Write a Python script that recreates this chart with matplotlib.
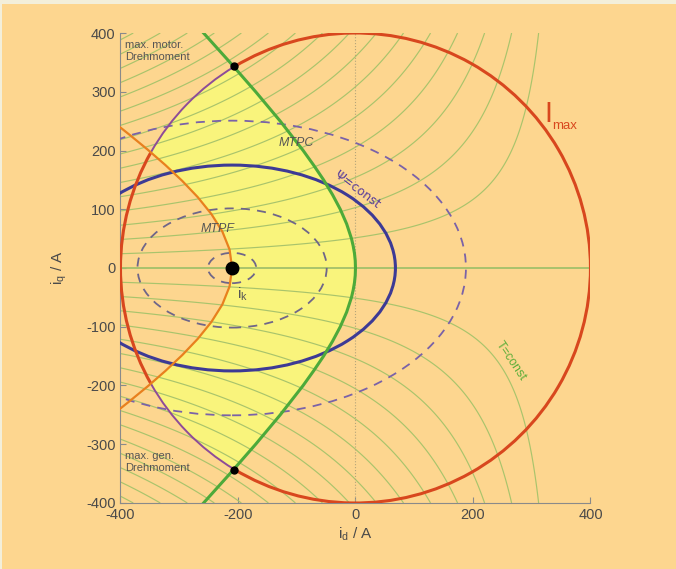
import numpy as np
import matplotlib.pyplot as plt
from matplotlib.patches import Ellipse, Arc, Circle, Polygon, Rectangle

plt.rcParams['font.family'] = ['Liberation Sans', 'DejaVu Sans']
plt.rcParams['axes.unicode_minus'] = False

# machine parameters
i_k = -210.0          # short-circuit current (centre of the voltage ellipses)
lq_ld = 1.587         # Lq / Ld  (ellipse height/width = 0.63)
i_max = 400.0         # current limit circle radius

# voltage ellipses (half width in A), dashed ones and the solid one
ell_dashed = [41, 161, 398]
ell_solid = 278

# constant torque levels (normalised units)
torque_step = 10800
torque_levels = [n * torque_step for n in range(1, 19)]

# MTPF curve, upper half (id, iq)
mtpf_id = [-210.0, -214.3, -226.6, -245.3, -268.4, -294.8, -323.3, -353.4, -384.5, -403.6]
mtpf_iq = [0.0, 31.4, 62.1, 91.9, 120.5, 148.2, 175.0, 201.2, 226.7, 241.9]

# MTPC curve, upper half (id, iq)
mtpc_id = [0.0, -0.4, -1.7, -3.9, -6.8, -15.0, -25.9, -39.2, -54.3, -71.2, -89.1,
           -128.1, -169.9, -213.6, -258.6]
mtpc_iq = [0.0, 12.5, 25, 37.5, 50, 75, 100, 125, 150, 175, 200, 250, 300, 350, 400]

# operating points: max motor / generator torque
pt_id = [-207, -207]
pt_iq = [343, -343]

# angles where the current circle changes colour
ang_mtpc = 121.1
ang_mtpf = 150.5

bg = '#FDD68F'
fig = plt.figure(figsize=(6.76, 5.69), dpi=100, facecolor=bg)
fig.patches.append(Rectangle((0, 0.993), 1, 0.007, transform=fig.transFigure,
                             facecolor='#F3EFDA', edgecolor='none'))
fig.patches.append(Rectangle((0, 0), 0.003, 1, transform=fig.transFigure,
                             facecolor='#F3EFDA', edgecolor='none'))
ax = fig.add_axes([0.1775, 0.116, 0.6967, 0.826])
ax.set_facecolor('none')

# yellow area between MTPF and MTPC inside the current circle
up = list(zip(mtpf_id, mtpf_iq))
low = [(x, -y) for x, y in up[::-1]]
mtpf_full = low[:-1] + up
c_up = list(zip(mtpc_id, mtpc_iq))
c_low = [(x, -y) for x, y in c_up[::-1]]
mtpc_full = c_low[:-1] + c_up
verts = [(-420, -420)] + mtpf_full + [(-420, 420)] + mtpc_full[::-1]
poly = Polygon(verts, closed=True, facecolor='#F9F47C', edgecolor='none', zorder=1)
ax.add_patch(poly)
poly.set_clip_path(Circle((0, 0), i_max, transform=ax.transData))

# constant torque lines
gx = np.linspace(-400, 400, 500)
gy = np.linspace(-400, 400, 500)
X, Y = np.meshgrid(gx, gy)
fac = -i_k + (1 - lq_ld) * X
T = np.where(fac > 0, Y * fac, np.nan)
lev = sorted([-t for t in torque_levels] + torque_levels)
ax.contour(X, Y, T, levels=lev, colors='#A9C46C', linewidths=0.85,
           linestyles='solid', zorder=2)
ax.plot([-400, 400], [0, 0], color='#A3C06A', lw=1.3, zorder=2)
ax.plot([0, 0], [-400, 400], color='#B5A57A', lw=0.8, ls=':', zorder=2)

# voltage ellipses
k = 1 / lq_ld
for a in ell_dashed:
    col = '#7A62A8' if a > 300 else '#6F6689'
    ax.add_patch(Ellipse((i_k, 0), 2 * a, 2 * a * k, fill=False, edgecolor=col,
                         lw=1.3, ls=(0, (5, 4)), zorder=3))
ax.add_patch(Ellipse((i_k, 0), 2 * ell_solid, 2 * ell_solid * k, fill=False,
                     edgecolor='#3D3A95', lw=2.2, zorder=3))

# current limit circle
red = '#D8471E'
purple = '#8E4C98'
ax.add_patch(Arc((0, 0), 2 * i_max, 2 * i_max, theta1=-ang_mtpc, theta2=ang_mtpc,
                 edgecolor=red, lw=2.2, zorder=4))
ax.add_patch(Arc((0, 0), 2 * i_max, 2 * i_max, theta1=ang_mtpf, theta2=360 - ang_mtpf,
                 edgecolor=red, lw=2.2, zorder=4))
ax.add_patch(Arc((0, 0), 2 * i_max, 2 * i_max, theta1=ang_mtpc, theta2=ang_mtpf,
                 edgecolor=purple, lw=1.4, zorder=4))
ax.add_patch(Arc((0, 0), 2 * i_max, 2 * i_max, theta1=360 - ang_mtpf, theta2=360 - ang_mtpc,
                 edgecolor=purple, lw=1.4, zorder=4))

# MTPF and MTPC
ax.plot([p[0] for p in mtpf_full], [p[1] for p in mtpf_full], color='#E8801E', lw=1.6, zorder=4)
ax.plot([p[0] for p in mtpc_full], [p[1] for p in mtpc_full], color='#4DAA3A', lw=2.2, zorder=4)

ax.plot(pt_id, pt_iq, 'o', color='black', ms=5, zorder=6)
ax.plot([i_k], [0], 'o', color='black', ms=9, zorder=6)

# labels
tc = '#555555'
ax.text(-392, 388, 'max. motor.\nDrehmoment', fontsize=8, color=tc, va='top', ha='left',
        linespacing=1.2, zorder=7)
ax.text(-392, -312, 'max. gen.\nDrehmoment', fontsize=8, color=tc, va='top', ha='left',
        linespacing=1.2, zorder=7)
ax.text(-100, 212, 'MTPC', fontsize=9, style='italic', color=tc, ha='center', va='center', zorder=7)
ax.text(-235, 66, 'MTPF', fontsize=9, style='italic', color=tc, ha='center', va='center', zorder=7)
ax.text(3, 134, 'Ψ=const', fontsize=9, color='#5A3E9A', rotation=-37, ha='center', va='center',
        family=['DejaVu Sans'], zorder=7)
ax.text(264, -159, 'T=const', fontsize=9, color='#5FAE3A', rotation=-56, ha='center', va='center',
        zorder=7)
ax.text(322, 262, 'I', fontsize=21, color=red, ha='left', va='center', zorder=7)
ax.text(334, 241, 'max', fontsize=9.5, color=red, ha='left', va='center', zorder=7)
ax.text(-192, -45, r'$\mathregular{i_k}$', fontsize=11, color=tc, ha='center', va='center', zorder=7)

ax.set_xlim(-400, 400)
ax.set_ylim(-400, 400)
ax.set_aspect('equal', adjustable='box')
ax.set_xticks([-400, -200, 0, 200, 400])
ax.set_yticks([-400, -300, -200, -100, 0, 100, 200, 300, 400])
ax.tick_params(direction='in', length=4, color='#8A8A8A', labelcolor='#4A4A4A', labelsize=10.5)
for s in ['top', 'right']:
    ax.spines[s].set_visible(False)
for s in ['left', 'bottom']:
    ax.spines[s].set_color('#8A8A8A')
ax.set_xlabel(r'$\mathregular{i_d}$ / A', fontsize=11, color='#4A4A4A', labelpad=3)
ax.set_ylabel(r'$\mathregular{i_q}$ / A', fontsize=11, color='#4A4A4A', labelpad=12)

fig.savefig('out.png', dpi=100, facecolor=bg)
